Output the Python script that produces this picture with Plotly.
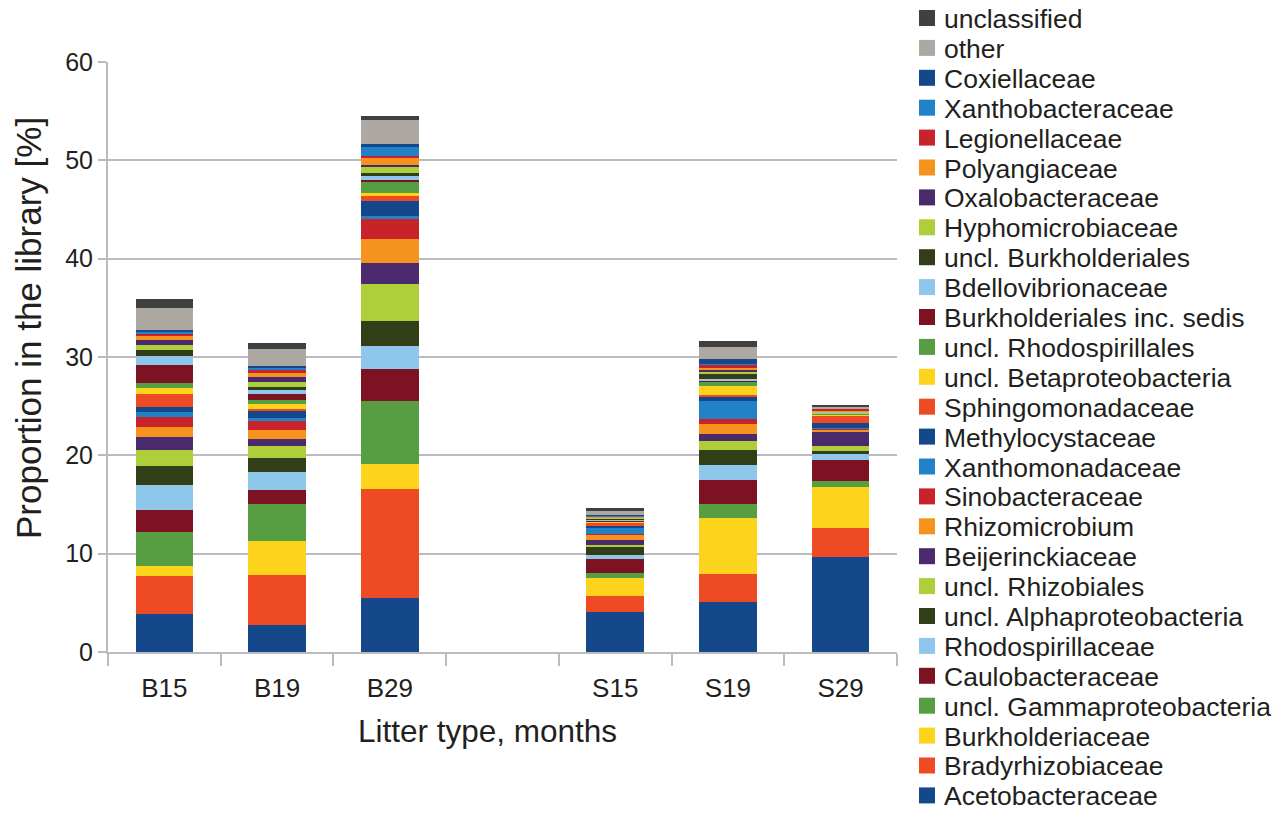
import plotly.graph_objects as go

# Taxa, stacked bottom -> top
taxa = [
    "Acetobacteraceae", "Bradyrhizobiaceae", "Burkholderiaceae",
    "uncl. Gammaproteobacteria", "Caulobacteraceae", "Rhodospirillaceae",
    "uncl. Alphaproteobacteria", "uncl. Rhizobiales", "Beijerinckiaceae",
    "Rhizomicrobium", "Sinobacteraceae", "Xanthomonadaceae",
    "Methylocystaceae", "Sphingomonadaceae", "uncl. Betaproteobacteria",
    "uncl. Rhodospirillales", "Burkholderiales inc. sedis",
    "Bdellovibrionaceae", "uncl. Burkholderiales", "Hyphomicrobiaceae",
    "Oxalobacteraceae", "Polyangiaceae", "Legionellaceae",
    "Xanthobacteraceae", "Coxiellaceae", "other", "unclassified",
]

colors = [
    "#15488A", "#EE4A23", "#FDD31C", "#579E43", "#7C1222", "#8DC7EB",
    "#313E18", "#AECE3A", "#4A2A6D", "#F6921E", "#C8222A", "#2282C7",
    "#15488A", "#EE4A23", "#FDD31C", "#579E43", "#7C1222", "#8DC7EB",
    "#313E18", "#AECE3A", "#4A2A6D", "#F6921E", "#C8222A", "#2282C7",
    "#15488A", "#ADA8A1", "#404040",
]

categories = ["B15", "B19", "B29", " ", "S15", "S19", "S29"]

# Proportion in the library [%] per sample, same order as taxa
B15 = [3.86, 3.87, 1.02, 3.45, 2.24, 2.54, 1.94, 1.62, 1.32, 1.02, 1.02, 0.50,
       0.51, 1.33, 0.61, 0.51, 1.83, 0.91, 0.61, 0.51, 0.51, 0.50, 0.15, 0.23,
       0.17, 2.25, 0.90]
B19 = [2.75, 5.08, 3.46, 3.76, 1.43, 1.83, 1.42, 1.22, 0.71, 0.92, 0.91, 0.31,
       0.71, 0.20, 0.51, 0.41, 0.61, 0.40, 0.31, 0.51, 0.51, 0.40, 0.31, 0.24,
       0.17, 1.72, 0.61]
B29 = [5.49, 11.09, 2.54, 6.38, 3.28, 2.32, 2.53, 3.78, 2.14, 2.43, 2.03, 0.32,
       1.53, 0.50, 0.29, 1.14, 0.21, 0.40, 0.28, 0.61, 0.21, 0.71, 0.22, 0.93,
       0.28, 2.43, 0.43]
S15 = [4.07, 1.62, 1.83, 0.51, 1.43, 0.40, 0.82, 0.20, 0.51, 0.51, 0.10, 0.61,
       0.24, 0.30, 0.10, 0.06, 0.08, 0.05, 0.10, 0.10, 0.05, 0.08, 0.05, 0.04,
       0.07, 0.51, 0.20]
S19 = [5.08, 2.85, 5.70, 1.42, 2.44, 1.53, 1.52, 0.92, 0.71, 1.02, 0.51, 1.83,
       0.40, 0.21, 0.91, 0.41, 0.05, 0.25, 0.51, 0.24, 0.20, 0.21, 0.27, 0.13,
       0.48, 1.22, 0.61]
S29 = [9.66, 2.95, 4.17, 0.61, 2.14, 0.61, 0.30, 0.51, 1.52, 0.15, 0.10, 0.06,
       0.48, 0.77, 0.15, 0.04, 0.04, 0.10, 0.03, 0.05, 0.03, 0.05, 0.25, 0.02,
       0.02, 0.18, 0.13]

samples = {"B15": B15, "B19": B19, "B29": B29, "S15": S15, "S19": S19, "S29": S29}

# Page geometry (pixels)
W, H = 1287, 813
PL, PR, PT, PB = 108, 897, 62, 652
TXT = "#231F20"
GRID = "#BBBBBF"
FONT = "Liberation Sans, Arial, sans-serif"


def px_x(px):
    return (px - PL) / (PR - PL)


def px_y(py):
    return (PB - py) / (PB - PT)


fig = go.Figure()
for i, name in enumerate(taxa):
    yvals = [samples[c][i] if c in samples else None for c in categories]
    fig.add_trace(go.Bar(
        x=categories, y=yvals, name=name,
        marker=dict(color=colors[i], line=dict(width=0)),
        showlegend=False,
    ))

# Legend: top entry is the last stacked taxon
shapes = []
annotations = []
row0, step = 18, 29.9
for k in range(len(taxa)):
    idx = len(taxa) - 1 - k
    yc = row0 + step * k
    shapes.append(dict(
        type="rect", xref="paper", yref="paper",
        x0=px_x(919), x1=px_x(935), y0=px_y(yc + 8), y1=px_y(yc - 8),
        fillcolor=colors[idx], line=dict(width=0), layer="above",
    ))
    annotations.append(dict(
        x=px_x(943), y=px_y(yc + 1), xref="paper", yref="paper",
        xanchor="left", yanchor="middle", showarrow=False, borderpad=0,
        text=taxa[idx], font=dict(family=FONT, size=26.5, color=TXT),
    ))

# Axis titles
annotations.append(dict(
    x=px_x(487), y=px_y(731), xref="paper", yref="paper",
    xanchor="center", yanchor="middle", showarrow=False,
    text="Litter type, months", font=dict(family=FONT, size=31.5, color=TXT),
))
annotations.append(dict(
    x=px_x(28), y=px_y(328), xref="paper", yref="paper",
    xanchor="center", yanchor="middle", showarrow=False, textangle=-90,
    text="Proportion in the library [%]", font=dict(family=FONT, size=35, color=TXT),
))

fig.update_layout(
    width=W, height=H,
    margin=dict(l=PL, r=W - PR, t=PT, b=H - PB, pad=0),
    barmode="stack", bargap=0.49,
    plot_bgcolor="white", paper_bgcolor="white",
    font=dict(family=FONT, color=TXT),
    shapes=shapes, annotations=annotations,
    showlegend=False,
)
fig.update_xaxes(
    type="category", categoryorder="array", categoryarray=categories,
    range=[-0.5, 6.5], tickson="boundaries",
    ticks="outside", ticklen=12, tickwidth=2, tickcolor=GRID,
    showline=True, linecolor=GRID, linewidth=2,
    showgrid=False, tickfont=dict(size=26, color=TXT),
    ticklabelstandoff=12,
)
fig.update_yaxes(
    range=[0, 60], tickvals=[0, 10, 20, 30, 40, 50, 60],
    ticks="outside", ticklen=8, tickwidth=2, tickcolor=GRID,
    showline=True, linecolor=GRID, linewidth=2,
    showgrid=True, gridcolor=GRID, gridwidth=2,
    zeroline=False, tickfont=dict(size=25, color=TXT),
    ticklabelstandoff=0,
)

fig.write_html("out.html")
